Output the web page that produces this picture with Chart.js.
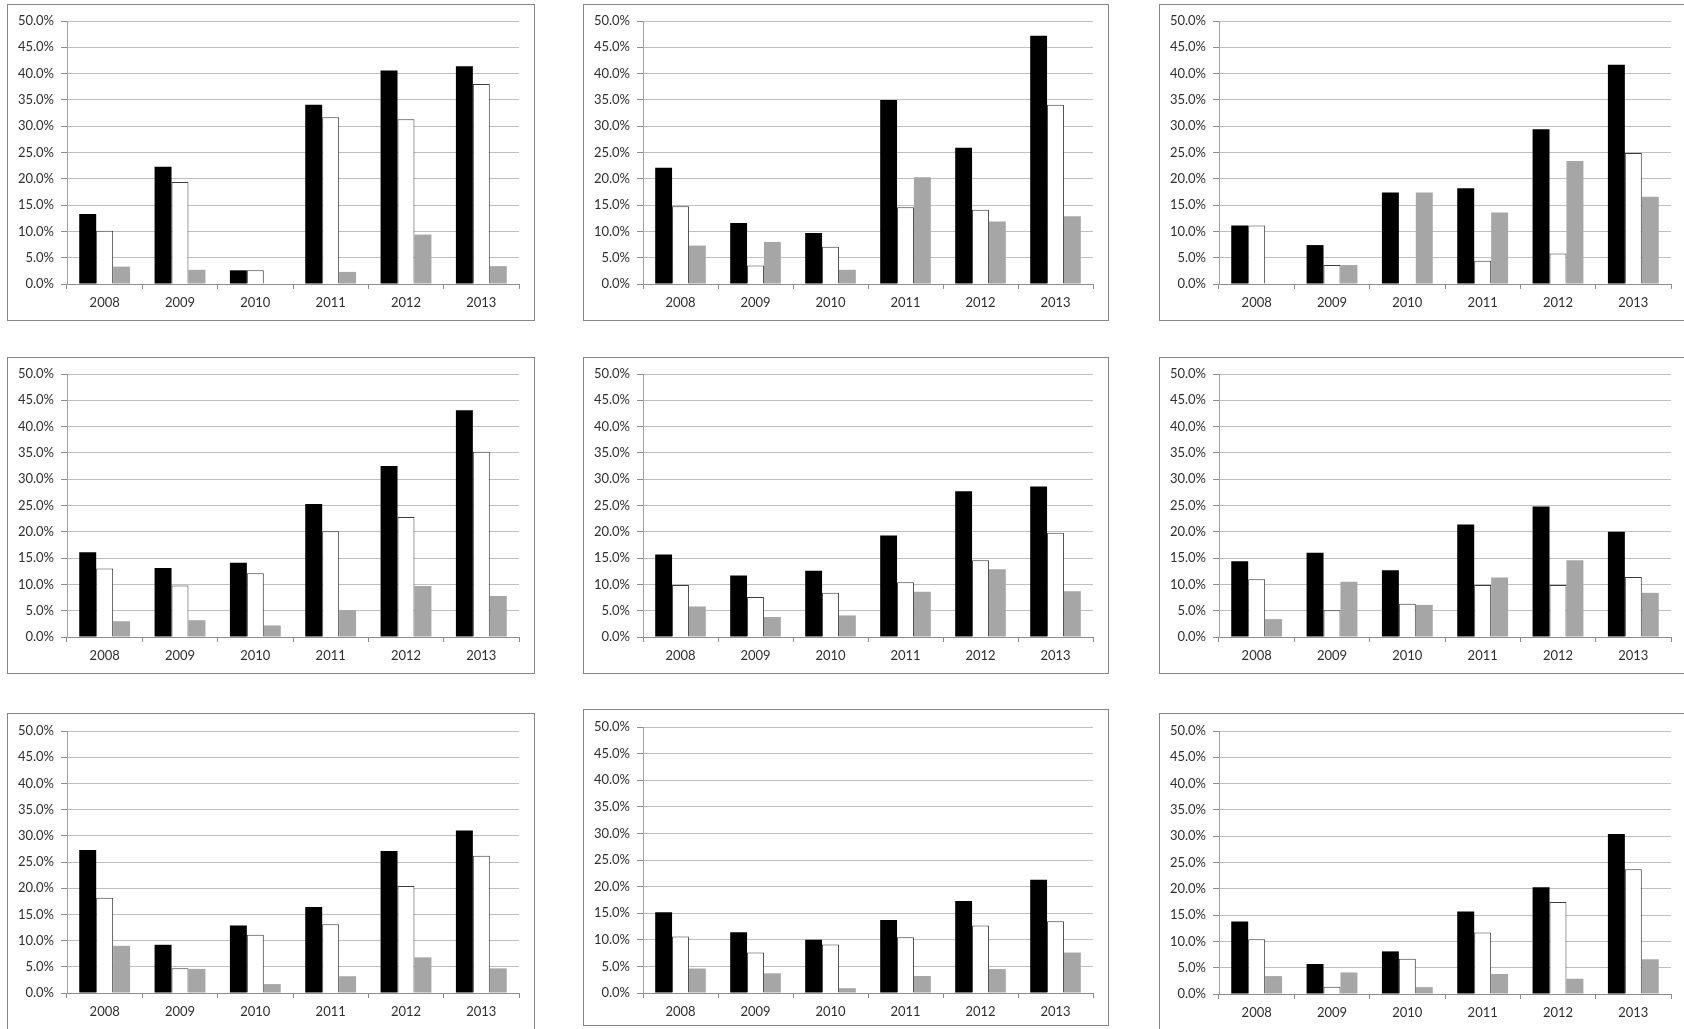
<!DOCTYPE html>
<html>
<head>
<meta charset="utf-8">
<script src="https://cdn.jsdelivr.net/npm/chart.js@4.4.1/dist/chart.umd.min.js"></script>
<style>
  html, body { margin: 0; padding: 0; background: #ffffff; overflow: hidden; }
  body { width: 1684px; height: 1029px; position: relative; }
  .panel { position: absolute; border: 1px solid #878787; background: #fff; box-sizing: content-box; }
  .panel canvas { display: block; }
</style>
</head>
<body>
<script>
// ---- Data ----
const years = ['2008', '2009', '2010', '2011', '2012', '2013'];
const yMin = 0, yMax = 50, yStep = 5;

// Row 1
const p1Black = [13.3, 22.3, 2.6, 34.1, 40.6, 41.4];
const p1White = [10.1, 19.4, 2.6, 31.7, 31.3, 38.0];
const p1Gray  = [3.3, 2.7, 0, 2.3, 9.4, 3.4];

const p2Black = [22.1, 11.6, 9.7, 35.0, 25.9, 47.2];
const p2White = [14.8, 3.5, 7.1, 14.6, 14.1, 34.1];
const p2Gray  = [7.3, 8.0, 2.7, 20.3, 11.9, 12.9];

const p3Black = [11.1, 7.4, 17.4, 18.2, 29.4, 41.7];
const p3White = [11.1, 3.6, 0, 4.4, 5.8, 24.9];
const p3Gray  = [0, 3.6, 17.4, 13.6, 23.4, 16.6];

// Row 2
const p4Black = [16.1, 13.1, 14.1, 25.3, 32.5, 43.1];
const p4White = [13.0, 9.8, 12.1, 20.1, 22.8, 35.2];
const p4Gray  = [3.0, 3.2, 2.2, 5.1, 9.7, 7.8];

const p5Black = [15.7, 11.7, 12.6, 19.3, 27.7, 28.6];
const p5White = [9.9, 7.6, 8.4, 10.4, 14.6, 19.8];
const p5Gray  = [5.8, 3.8, 4.1, 8.6, 12.9, 8.7];

const p6Black = [14.4, 16.0, 12.7, 21.4, 24.8, 20.0];
const p6White = [11.0, 5.1, 6.3, 9.9, 9.9, 11.4];
const p6Gray  = [3.4, 10.5, 6.1, 11.3, 14.6, 8.4];

// Row 3
const p7Black = [27.3, 9.2, 12.9, 16.4, 27.1, 31.0];
const p7White = [18.2, 4.7, 11.1, 13.1, 20.4, 26.2];
const p7Gray  = [9.0, 4.6, 1.7, 3.2, 6.8, 4.7];

const p8Black = [15.2, 11.4, 10.0, 13.7, 17.3, 21.3];
const p8White = [10.6, 7.6, 9.1, 10.5, 12.7, 13.5];
const p8Gray  = [4.6, 3.7, 0.9, 3.2, 4.5, 7.6];

const p9Black = [13.8, 5.7, 8.1, 15.7, 20.3, 30.4];
const p9White = [10.4, 1.4, 6.7, 11.7, 17.5, 23.7];
const p9Gray  = [3.4, 4.1, 1.3, 3.8, 2.9, 6.6];

// ---- Layout (panel boxes) ----
const panels = [
  { left: 7,    top: 4,   w: 526, h: 315, pt: 16, xh: 36, s: [p1Black, p1White, p1Gray] },
  { left: 583,  top: 4,   w: 524, h: 315, pt: 16, xh: 36, s: [p2Black, p2White, p2Gray] },
  { left: 1159, top: 4,   w: 526, h: 315, pt: 16, xh: 36, s: [p3Black, p3White, p3Gray] },
  { left: 7,    top: 357, w: 526, h: 315, pt: 16, xh: 36, s: [p4Black, p4White, p4Gray] },
  { left: 583,  top: 357, w: 524, h: 315, pt: 16, xh: 36, s: [p5Black, p5White, p5Gray] },
  { left: 1159, top: 357, w: 526, h: 315, pt: 16, xh: 36, s: [p6Black, p6White, p6Gray] },
  { left: 7,    top: 713, w: 526, h: 315, pt: 17, xh: 36, s: [p7Black, p7White, p7Gray] },
  { left: 583,  top: 709, w: 524, h: 315, pt: 17, xh: 32, s: [p8Black, p8White, p8Gray] },
  { left: 1159, top: 713, w: 526, h: 315, pt: 17, xh: 35, s: [p9Black, p9White, p9Gray] }
];

const FONT = { family: 'Lato, "Open Sans", sans-serif', size: 13 };

panels.forEach((p, i) => {
  const div = document.createElement('div');
  div.className = 'panel';
  div.style.left = p.left + 'px';
  div.style.top = p.top + 'px';
  div.style.width = p.w + 'px';
  div.style.height = p.h + 'px';
  const cv = document.createElement('canvas');
  cv.width = p.w; cv.height = p.h;
  cv.style.width = p.w + 'px'; cv.style.height = p.h + 'px';
  div.appendChild(cv);
  document.body.appendChild(div);

  new Chart(cv, {
    type: 'bar',
    data: {
      labels: years,
      datasets: [
        { data: p.s[0], backgroundColor: '#000000', borderColor: '#1a1a1a', borderWidth: 0 },
        { data: p.s[1], backgroundColor: '#ffffff', borderColor: '#3c3c3c', borderWidth: { top: 1, right: 1, left: 1, bottom: 0 }, borderSkipped: 'bottom' },
        { data: p.s[2], backgroundColor: '#a6a6a6', borderColor: '#bdbdbd', borderWidth: 0 }
      ]
    },
    options: {
      responsive: false,
      animation: false,
      devicePixelRatio: 1,
      categoryPercentage: 0.675,
      barPercentage: 1.0,
      layout: { padding: { left: 0, top: p.pt, right: 15, bottom: 0 } },
      plugins: { legend: { display: false }, tooltip: { enabled: false }, title: { display: false } },
      scales: {
        x: {
          offset: true,
          grid: { offset: true, drawOnChartArea: false, drawTicks: true, tickLength: 5, color: '#8c8c8c', tickColor: '#8c8c8c' },
          border: { display: true, color: '#8c8c8c', width: 1 },
          ticks: { font: FONT, color: '#2e2e2e', padding: 6, maxRotation: 0 },
          afterFit: (s) => { s.height = p.xh; }
        },
        y: {
          min: yMin, max: yMax,
          grid: { color: '#bfbfbf', lineWidth: 1, drawTicks: true, tickLength: 6, tickColor: '#8c8c8c' },
          border: { display: true, color: '#a0a0a0', width: 1 },
          ticks: {
            stepSize: yStep, font: FONT, color: '#2e2e2e', padding: 7,
            callback: (v) => v.toFixed(1) + '%'
          },
          afterFit: (s) => { s.width = 59; }
        }
      }
    }
  });
});
</script>
</body>
</html>
